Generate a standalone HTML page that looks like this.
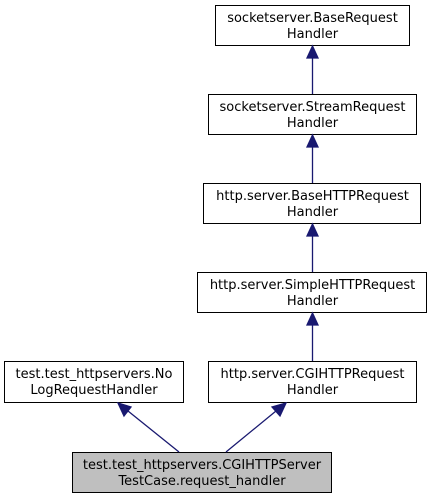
<!DOCTYPE html>
<html><head><style>
body{margin:0;background:#fff}
svg text{font-family:"DejaVu Sans",sans-serif;font-size:13px;text-anchor:middle;fill:#000}
</style></head><body>
<svg width="431" height="499" viewBox="0 0 431 499" xmlns="http://www.w3.org/2000/svg">
<g fill="#fff" stroke="#000" stroke-width="1">
<rect x="215.5" y="5.5" width="194" height="40"/>
<rect x="208.5" y="94.5" width="208" height="40"/>
<rect x="203.5" y="183.5" width="217" height="40"/>
<rect x="197.5" y="272.5" width="229" height="40"/>
<rect x="208.5" y="361.5" width="208" height="41"/>
<rect x="4.5" y="361.5" width="179" height="41"/>
<rect x="72.5" y="452.5" width="259" height="40" fill="#bfbfbf"/>
</g>
<g stroke="#191970" stroke-width="1.3" fill="#191970">
<line x1="312.5" y1="94" x2="312.5" y2="58"/><polygon points="307,58 318,58 312.5,46"/>
<line x1="312.5" y1="183" x2="312.5" y2="147"/><polygon points="307,147 318,147 312.5,135"/>
<line x1="312.5" y1="272" x2="312.5" y2="236"/><polygon points="307,236 318,236 312.5,224"/>
<line x1="312.5" y1="361" x2="312.5" y2="325"/><polygon points="307,325 318,325 312.5,313"/>
<line x1="179" y1="452" x2="128" y2="411"/><polygon points="124,416 131,407 118,403"/>
<line x1="226" y1="452" x2="276" y2="411"/><polygon points="272,407 280,416 286,403"/>
</g>
<text x="312.5" y="22">socketserver.BaseRequest</text><text x="312.5" y="38">Handler</text>
<text x="312.5" y="111">socketserver.StreamRequest</text><text x="312.5" y="127">Handler</text>
<text x="312.5" y="200">http.server.BaseHTTPRequest</text><text x="312.5" y="216">Handler</text>
<text x="312.5" y="289">http.server.SimpleHTTPRequest</text><text x="312.5" y="305">Handler</text>
<text x="312.5" y="378">http.server.CGIHTTPRequest</text><text x="312.5" y="394">Handler</text>
<text x="94" y="378">test.test_httpservers.No</text><text x="94" y="394">LogRequestHandler</text>
<text x="202" y="469">test.test_httpservers.CGIHTTPServer</text><text x="202" y="485">TestCase.request_handler</text>
</svg>
</body></html>
